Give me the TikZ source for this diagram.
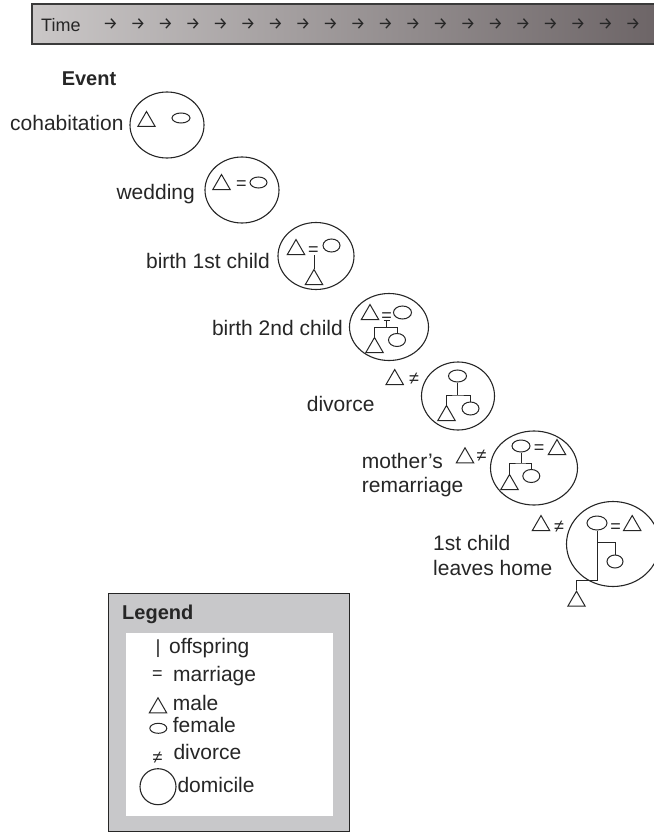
\documentclass[tikz,border=0pt]{standalone}
\usepackage{fontspec}
\setmainfont{Liberation Sans}
\newfontfamily\arrowfont{Fira Sans}
\usetikzlibrary{shapes.geometric}
\definecolor{ink}{HTML}{262626}
\definecolor{barL}{HTML}{CAC7C7}
\definecolor{barR}{HTML}{6C6466}
\definecolor{barline}{HTML}{3A3A3A}
\definecolor{legendgray}{HTML}{C8C8CA}
\tikzset{
  home/.style={draw=ink, ellipse, inner sep=0pt, line width=1.1pt},
  male/.style={draw=ink, regular polygon, regular polygon sides=3,
    minimum size=20pt, inner sep=0pt, line width=1pt},
  female/.style={draw=ink, ellipse, inner sep=0pt, minimum width=17pt,
    minimum height=12pt, line width=1pt},
  kin/.style={draw=ink, line width=1pt},
  lbl/.style={font=\fontsize{21}{25}\selectfont, text=ink, inner sep=0pt},
  sym/.style={font=\fontsize{18}{18}\selectfont, text=ink, inner sep=0pt, anchor=base},
  arrowglyph/.style={font=\arrowfont\fontsize{17}{17}\selectfont, text=ink, inner sep=0pt},
}
\begin{document}
\begin{tikzpicture}[x=1pt, y=-1pt]
\useasboundingbox (0,0) rectangle (653,832);

% time bar
\shade[left color=barL, right color=barR] (32,4) rectangle (662,44);
\draw[barline, line width=1.2pt] (662,4) -- (32,4) -- (32,44) -- (662,44);
\node[anchor=base west, font=\fontsize{18}{20}\selectfont, text=ink, inner sep=0pt]
  (time) at (41,31.5) {Time};
\foreach \i in {0,...,19}
  \node[arrowglyph] (arr\i) at (110.5+27.5*\i,24) {→};

\node[anchor=base, font=\bfseries\fontsize{20}{24}\selectfont, text=ink, inner sep=0pt]
  (event) at (89,86) {Event};

% cohabitation
\node[home, minimum width=74pt, minimum height=66pt] (h1) at (167,125) {};
\node[male] (m1) at (146.5,121.5) {};
\node[female, minimum width=18pt, minimum height=10pt] (f1) at (181,118) {};
\node[lbl, anchor=base west] (l1) at (10,131) {cohabitation};

% wedding
\node[home, minimum width=74pt, minimum height=66pt] (h2) at (242,190) {};
\node[male] (m2) at (221.5,184.5) {};
\node[sym] (e2) at (241.5,189.5) {=};
\node[female, minimum height=11pt] (f2) at (258.5,182.5) {};
\node[lbl, anchor=base east] (l2) at (195,199) {wedding};

% birth of the first child
\node[home, minimum width=76pt, minimum height=67pt] (h3) at (316,256) {};
\node[male] (m3) at (296,249.5) {};
\node[sym] (e3) at (313.5,255.5) {=};
\node[female, minimum height=13pt] (f3) at (331.5,245.5) {};
\node[male] (c3) at (314,279.5) {};
\coordinate (d3) at (314,255);
\draw[kin] (d3) -- (c3.north);
\node[lbl, anchor=base east] (l3) at (270,268) {birth 1st child};

% birth of the second child
\node[home, minimum width=79pt, minimum height=67pt] (h4) at (389,327) {};
\node[male] (m4) at (370,314.5) {};
\node[sym] (e4) at (386.5,321) {=};
\node[female, minimum width=18pt, minimum height=13pt] (f4) at (402.5,312.5) {};
\node[male] (c4a) at (374.5,347.5) {};
\node[female, minimum height=13pt] (c4b) at (397,340) {};
\coordinate (t4l) at (383.5,320);
\coordinate (t4r) at (389.5,320);
\coordinate (t4) at (386.5,320);
\coordinate (s4) at (386.5,327.3);
\draw[kin] (t4l) -- (t4r);
\draw[kin] (t4) -- (s4);
\draw[kin] (c4a.north) |- (s4) -| (c4b.north);
\node[lbl, anchor=base east] (l4) at (343,335) {birth 2nd child};

% divorce
\node[home, minimum width=73pt, minimum height=68pt] (h5) at (458,396) {};
\node[female, minimum width=18pt] (f5) at (457.5,376) {};
\node[male] (c5a) at (446.5,415.5) {};
\node[female, minimum height=13pt] (c5b) at (470.5,408.5) {};
\coordinate (s5) at (457.5,395);
\draw[kin] (f5.south) -- (s5);
\draw[kin] (c5a.north) |- (s5) -| (c5b.north);
\node[male] (x5) at (394.7,379.5) {};
\node[sym] (n5) at (414,384.5) {≠};
\node[lbl, anchor=base west] (l5) at (306.7,411) {divorce};

% mother's remarriage
\node[home, minimum width=87pt, minimum height=74pt] (h6) at (534,468) {};
\node[female, minimum width=18pt] (f6) at (521,446) {};
\node[sym] (e6) at (539,453.5) {=};
\node[male] (m6) at (557,449.5) {};
\node[male] (c6a) at (509.5,484.5) {};
\node[female, minimum height=13pt] (c6b) at (531.3,476) {};
\coordinate (s6) at (521,463);
\draw[kin] (f6.south) -- (s6);
\draw[kin] (c6a.north) |- (s6) -| (c6b.north);
\node[male] (x6) at (465,457.8) {};
\node[sym] (n6) at (481.5,461.5) {≠};
\node[lbl, anchor=base west] (l6a) at (361.7,468.3) {mother’s};
\node[lbl, anchor=base west] (l6b) at (361.7,492.7) {remarriage};

% first child leaves home
\node[home, minimum width=93pt, minimum height=85pt] (h7) at (613,544) {};
\node[female, minimum width=20pt, minimum height=14pt] (f7) at (597,523) {};
\node[sym] (e7) at (615.5,532.5) {=};
\node[male] (m7) at (632.2,525.5) {};
\node[female, minimum width=16pt, minimum height=13pt] (c7b) at (615,561.5) {};
\node[male] (c7a) at (576.5,601.2) {};
\coordinate (b7) at (597,542.7);
\coordinate (k7) at (597,580);
\draw[kin] (f7.south) -- (k7) -| (c7a.north);
\draw[kin] (b7) -| (c7b.north);
\node[male] (x7) at (541,525.5) {};
\node[sym] (n7) at (559,532.5) {≠};
\node[lbl, anchor=base west] (l7a) at (433,550) {1st child};
\node[lbl, anchor=base west] (l7b) at (433,575) {leaves home};

% legend
\draw[ink, fill=legendgray, line width=1pt] (108,593) rectangle (349,831);
\fill[white] (126,633) rectangle (333,816);
\node[anchor=base west, font=\bfseries\fontsize{20}{24}\selectfont, text=ink, inner sep=0pt]
  (lg) at (122,619) {Legend};
\node[anchor=base, font=\fontsize{19}{19}\selectfont, text=ink, inner sep=0pt] (lgs1) at (158,653) {|};
\node[lbl, anchor=base west] (lgt1) at (169,653.5) {offspring};
\node[sym] (lgs2) at (157.5,679.5) {=};
\node[lbl, anchor=base west] (lgt2) at (173,681.5) {marriage};
\node[male] (lgs3) at (158,707.8) {};
\node[lbl, anchor=base west] (lgt3) at (172.7,710.7) {male};
\node[female, minimum height=10pt] (lgs4) at (158.3,728.3) {};
\node[lbl, anchor=base west] (lgt4) at (172.7,732.3) {female};
\node[sym] (lgs5) at (157.5,763) {≠};
\node[lbl, anchor=base west] (lgt5) at (173.3,759.3) {divorce};
\node[home, minimum size=36pt] (lgs6) at (158,786.7) {};
\node[lbl, anchor=base west] (lgt6) at (177.3,792.7) {domicile};
\end{tikzpicture}
\end{document}
